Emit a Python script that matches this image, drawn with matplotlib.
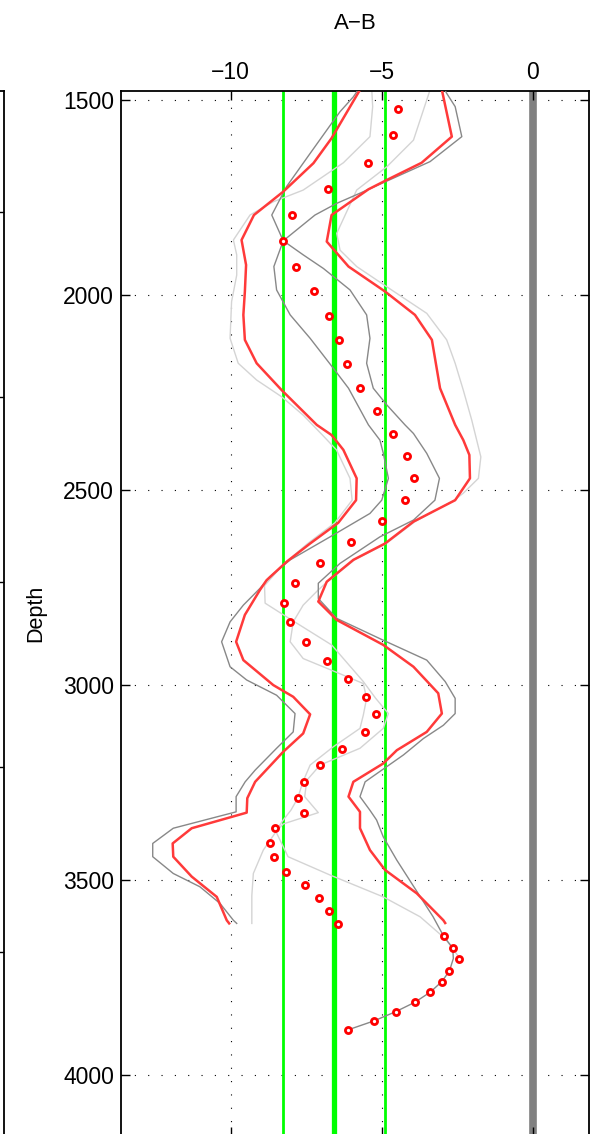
import numpy as np
import matplotlib
matplotlib.use("Agg")
import matplotlib.pyplot as plt

plt.rcParams['font.family'] = ['Liberation Sans', 'DejaVu Sans']

# ---------------- data (depth, A-B) ----------------
marker_depth = [1523, 1591, 1661, 1728, 1796, 1861, 1927, 1991, 2054, 2116, 2177, 2238,
                2297, 2356, 2413, 2470, 2525, 2580, 2634, 2687, 2738, 2789, 2839, 2889,
                2938, 2985, 3031, 3075, 3120, 3164, 3206, 3248, 3289, 3328, 3367, 3405,
                3442, 3478, 3513, 3547, 3580, 3613, 3644, 3674, 3703, 3733, 3760, 3787,
                3813, 3837, 3861, 3884]
marker_val = [-4.45, -4.63, -5.45, -6.79, -7.96, -8.27, -7.83, -7.25, -6.75, -6.42, -6.16, -5.73,
              -5.17, -4.62, -4.17, -3.94, -4.22, -4.98, -6.03, -7.05, -7.86, -8.22, -8.03, -7.51,
              -6.81, -6.12, -5.51, -5.20, -5.55, -6.30, -7.03, -7.57, -7.77, -7.56, -8.52, -8.71,
              -8.58, -8.16, -7.54, -7.07, -6.75, -6.45, -2.95, -2.65, -2.45, -2.76, -3.01, -3.39,
              -3.90, -4.53, -5.26, -6.12]

red_left_depth = [1474, 1598, 1662, 1735, 1795, 1859, 1923, 1991, 2051, 2115, 2175, 2244, 2333,
                  2359, 2397, 2470, 2526, 2584, 2637, 2684, 2731, 2756, 2820, 2889, 2936, 3000,
                  3030, 3075, 3124, 3171, 3248, 3290, 3327, 3367, 3406, 3440, 3491, 3543, 3603, 3611]
red_left_val = [-5.72, -6.66, -7.26, -8.26, -9.23, -9.64, -9.49, -9.53, -9.58, -9.53, -9.14, -8.31, -7.15,
                -6.66, -6.27, -5.83, -5.85, -6.44, -7.37, -8.15, -8.81, -9.03, -9.53, -9.82, -9.58, -8.59,
                -7.93, -7.37, -7.60, -8.26, -9.19, -9.45, -9.47, -11.29, -11.92, -11.90, -11.29, -10.46, -10.13, -10.05]

red_right_depth = [1474, 1594, 1661, 1705, 1729, 1795, 1863, 1927, 1991, 2051, 2115, 2239, 2333,
                   2372, 2410, 2470, 2526, 2581, 2637, 2679, 2735, 2786, 2833, 2897, 2953, 3021,
                   3073, 3120, 3167, 3201, 3248, 3286, 3325, 3367, 3423, 3474, 3534, 3603, 3610]
red_right_val = [-3.01, -2.68, -3.68, -4.83, -5.44, -6.66, -6.82, -6.10, -4.89, -3.90, -3.34, -3.07, -2.57,
                 -2.30, -2.10, -2.08, -2.57, -3.95, -4.89, -5.94, -6.82, -7.10, -6.49, -4.95, -3.95, -3.13,
                 -3.01, -3.51, -4.50, -4.95, -5.94, -6.10, -5.72, -5.72, -5.39, -4.89, -3.84, -2.96, -2.90]

gray_left_depth = [1476, 1492, 1530, 1560, 1637, 1722, 1795, 1861, 1927, 1987, 2051, 2111, 2188, 2239,
                   2333, 2372, 2405, 2470, 2526, 2560, 2620, 2679, 2722, 2752, 2795, 2838, 2889, 2953,
                   2987, 3026, 3073, 3120, 3162, 3218, 3248, 3286, 3325, 3367, 3406, 3440, 3483, 3517,
                   3560, 3603, 3611]
gray_left_val = [-5.80, -5.94, -6.38, -6.66, -7.37, -8.15, -8.64, -8.26, -8.57, -8.48, -8.03, -7.37, -6.60, -6.10,
                 -5.44, -5.06, -4.95, -4.78, -5.00, -5.39, -6.71, -8.03, -8.70, -9.03, -9.58, -10.02, -10.30, -10.02,
                 -9.47, -8.48, -7.87, -7.93, -8.48, -9.19, -9.52, -9.82, -9.82, -11.90, -12.58, -12.58, -11.90, -11.02,
                 -10.35, -9.91, -9.80]

gray_right_depth = [1476, 1483, 1517, 1594, 1658, 1739, 1765, 1795, 1861, 1897, 1932, 1987, 2051, 2111,
                    2175, 2239, 2282, 2333, 2355, 2406, 2470, 2526, 2577, 2620, 2688, 2739, 2778, 2829,
                    2885, 2936, 2991, 3034, 3073, 3103, 3137, 3179, 3248, 3286, 3321, 3346, 3389, 3449,
                    3594, 3644, 3674, 3701, 3733, 3760, 3787, 3813, 3837, 3861, 3884]
gray_right_val = [-2.90, -2.85, -2.57, -2.35, -3.40, -5.72, -6.49, -7.21, -8.26, -7.60, -6.93, -6.05, -5.50, -5.39,
                  -5.50, -5.28, -4.83, -4.23, -3.95, -3.51, -3.09, -3.24, -3.95, -5.06, -6.38, -7.10, -7.10, -6.49,
                  -4.95, -3.51, -2.90, -2.57, -2.57, -2.96, -3.62, -4.28, -5.55, -5.72, -5.39, -5.17, -4.95, -4.50,
                  -3.30, -2.95, -2.65, -2.63, -2.76, -3.01, -3.39, -3.90, -4.53, -5.26, -6.12]

light_left_depth = [1474, 1517, 1594, 1661, 1731, 1761, 1795, 1859, 1897, 1949, 2017, 2111, 2175, 2218,
                    2261, 2308, 2360, 2397, 2470, 2526, 2584, 2637, 2690, 2745, 2790, 2825, 2897, 2991,
                    3034, 3073, 3111, 3162, 3205, 3244, 3286, 3327, 3356, 3376, 3423, 3483, 3540, 3611]
light_left_val = [-5.33, -5.30, -5.39, -6.27, -7.60, -8.59, -9.36, -9.91, -9.80, -9.80, -9.97, -10.02, -9.75, -9.14,
                  -8.31, -7.60, -6.95, -6.50, -6.05, -5.98, -6.55, -7.45, -8.25, -8.88, -8.86, -8.15, -6.66, -5.61,
                  -5.20, -4.78, -4.95, -5.72, -7.04, -7.48, -7.55, -7.10, -8.26, -8.50, -8.92, -9.25, -9.30, -9.30]

light_right_depth = [1474, 1603, 1671, 1731, 1842, 1885, 1927, 1979, 2047, 2115, 2175, 2244, 2321,
                     2415, 2470, 2508, 2526, 2581, 2637, 2679, 2735, 2756, 2795, 2838, 2889, 2932,
                     2962, 2996, 3034, 3077, 3111, 3158, 3205, 3250, 3290, 3320, 3350, 3376, 3440,
                     3487, 3543, 3594, 3650, 3701]
light_right_val = [-3.40, -3.95, -4.83, -5.83, -6.49, -6.38, -5.83, -4.83, -3.51, -2.85, -2.57, -2.30, -2.02,
                   -1.72, -1.80, -2.30, -2.60, -3.90, -4.85, -5.90, -6.80, -7.10, -7.60, -7.93, -8.03, -7.60,
                   -6.66, -5.61, -5.50, -5.61, -5.72, -6.60, -7.37, -7.62, -7.78, -8.00, -8.30, -8.50, -8.10,
                   -6.71, -4.95, -3.73, -2.90, -2.41]

vline_thin = [-8.26, -4.89]
vline_mean = -6.57
vline_zero = 0.0

xticks = [-10, -5, 0]
xticklabels = ['\u221210', '\u22125', '0']
yticks = [1500, 2000, 2500, 3000, 3500, 4000]

# ---------------- figure ----------------
W, H = 613, 1134
fig = plt.figure(figsize=(W / 100, H / 100), dpi=100)

ax_l, ax_r, ax_t, ax_b = 121, 589, 91, 1136
ax = fig.add_axes([ax_l / W, 1 - ax_b / H, (ax_r - ax_l) / W, (ax_b - ax_t) / H])

# neighbouring panel (only its right edge is visible)
ax0 = fig.add_axes([-0.2, 1 - ax_b / H, 0.2 + 4 / W, (ax_b - ax_t) / H])
ax0.set_ylim(5.995, 0.346)
ax0.set_xlim(0, 1)
ax0.set_yticks([1, 2, 3, 4, 5])
ax0.set_xticks([])
ax0.tick_params(axis='y', which='both', direction='in', length=6, width=1.0,
                left=True, right=True, labelleft=False, labelright=False)
for s in ax0.spines.values():
    s.set_linewidth(1.3)

grid_kw = dict(color='black', linewidth=0.8, linestyle=(0, (1, 11)))
for xv in xticks:
    ax.axvline(xv, zorder=0.5, **grid_kw)
for yv in yticks:
    ax.axhline(yv, zorder=0.5, **grid_kw)

ax.axvline(vline_zero, color='#808080', linewidth=5.5, zorder=1)
for xv in vline_thin:
    ax.axvline(xv, color='#00ff00', linewidth=2.0, zorder=1.5)
ax.axvline(vline_mean, color='#00ff00', linewidth=3.8, zorder=1.5)

ax.plot(light_left_val, light_left_depth, color='#d4d4d4', linewidth=1.0, zorder=2)
ax.plot(light_right_val, light_right_depth, color='#d4d4d4', linewidth=1.0, zorder=2)
ax.plot(gray_left_val, gray_left_depth, color='#888888', linewidth=1.0, zorder=3)
ax.plot(gray_right_val, gray_right_depth, color='#888888', linewidth=1.0, zorder=3)
ax.plot(red_left_val, red_left_depth, color='#ff3a3a', linewidth=1.8, zorder=4)
ax.plot(red_right_val, red_right_depth, color='#ff3a3a', linewidth=1.8, zorder=4)
ax.plot(marker_val, marker_depth, linestyle='none', marker='o', markersize=4.4,
        markerfacecolor='white', markeredgecolor='#ff0000', markeredgewidth=2.0, zorder=5)

ax.set_xlim(-13.63, 1.86)
ax.set_ylim(4156, 1477)
ax.set_xticks(xticks)
ax.set_xticklabels(xticklabels)
ax.set_yticks(yticks)
ax.tick_params(axis='both', which='major', direction='in', length=6.5, width=1.0,
               labelsize=16.5, top=True, bottom=True, left=True, right=True,
               labeltop=True, labelbottom=False, pad=5)
ax.xaxis.set_label_position('top')
ax.set_xlabel('A\u2212B', fontsize=16, labelpad=23)
ax.set_ylabel('Depth', fontsize=15.5, labelpad=12)
for s in ax.spines.values():
    s.set_linewidth(1.3)

fig.savefig('out.png', dpi=100)
